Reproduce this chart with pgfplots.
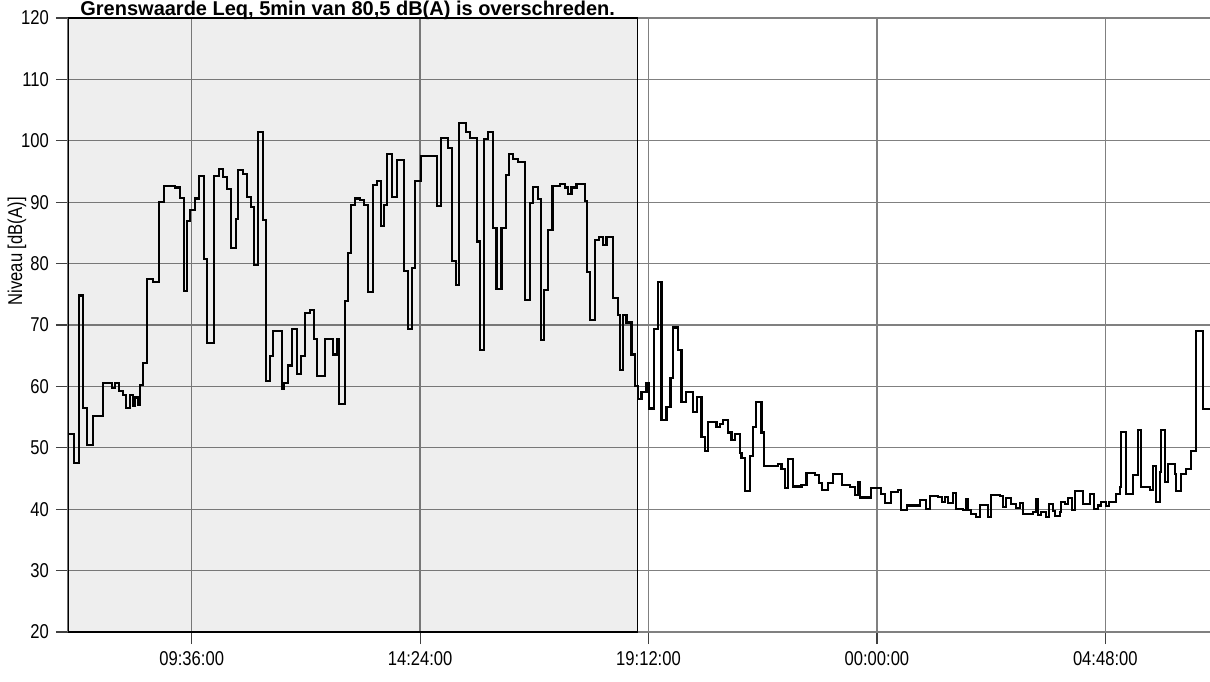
\documentclass[border=0pt]{standalone}
\usepackage{fontspec}
\setmainfont{Liberation Sans}
\usepackage{graphicx}
\usepackage{pgfplots}
\usepackage{pgfplotstable}
\pgfplotsset{compat=1.18}

\pgfplotstableread{
x y
7.000 52.3
7.126 47.5
7.237 74.8
7.309 56.5
7.393 50.5
7.519 55.2
7.729 60.5
7.918 59.7
7.987 60.5
8.078 59.2
8.162 58.6
8.218 56.5
8.303 58.6
8.359 56.8
8.408 58.2
8.477 57.0
8.513 60.3
8.569 63.8
8.666 77.5
8.779 77.0
8.918 90.0
9.017 92.7
9.248 92.4
9.353 90.7
9.437 75.6
9.506 87.0
9.563 88.7
9.668 90.6
9.758 94.2
9.857 80.8
9.926 67.0
10.067 94.2
10.179 95.4
10.263 94.1
10.334 92.2
10.418 82.5
10.529 87.2
10.578 95.3
10.683 94.6
10.754 90.8
10.845 89.2
10.908 79.8
10.998 101.4
11.090 87.1
11.160 60.9
11.244 65.0
11.313 69.0
11.489 59.6
11.544 60.6
11.628 63.4
11.700 69.3
11.805 62.0
11.895 65.0
11.979 72.0
12.084 72.5
12.168 67.7
12.225 61.7
12.399 67.7
12.574 65.2
12.645 67.7
12.700 57.1
12.819 73.9
12.889 81.7
12.945 89.6
13.029 90.6
13.134 90.3
13.218 89.6
13.296 75.4
13.414 92.8
13.498 93.4
13.569 86.1
13.639 89.6
13.695 97.9
13.813 90.8
13.905 96.9
14.059 78.8
14.149 69.3
14.221 79.3
14.290 93.4
14.410 97.5
14.746 89.4
14.830 100.4
14.989 98.9
15.061 80.4
15.151 76.5
15.221 102.9
15.361 101.4
15.445 100.5
15.586 83.6
15.655 65.9
15.739 100.3
15.830 101.5
15.935 85.8
16.006 75.8
16.111 85.8
16.202 94.4
16.271 97.8
16.355 97.0
16.460 96.5
16.601 74.1
16.706 89.9
16.775 92.5
16.880 90.5
16.931 67.5
17.000 75.7
17.090 85.5
17.183 92.7
17.336 92.9
17.441 92.4
17.511 91.3
17.582 92.4
17.687 92.9
17.861 90.2
17.910 78.7
17.966 70.8
18.071 83.9
18.162 84.4
18.246 83.1
18.317 84.4
18.456 74.4
18.561 71.6
18.597 62.7
18.666 71.7
18.737 70.4
18.842 65.2
18.912 60.0
18.981 58.0
19.053 59.1
19.158 60.5
19.212 56.4
19.311 69.3
19.401 77.0
19.473 54.5
19.578 56.6
19.662 61.3
19.716 69.6
19.821 66.0
19.893 57.5
19.983 59.1
20.137 55.8
20.221 58.3
20.313 51.7
20.382 49.5
20.452 54.2
20.628 53.4
20.697 53.9
20.767 54.5
20.872 52.5
20.943 51.2
21.013 52.2
21.118 49.2
21.153 48.4
21.223 42.9
21.328 48.7
21.397 53.4
21.468 57.5
21.574 52.5
21.622 47.0
21.922 47.3
21.994 46.5
22.063 43.5
22.132 48.2
22.237 43.7
22.414 44.0
22.519 45.9
22.693 45.5
22.784 44.2
22.855 43.2
22.973 44.3
23.078 45.8
23.275 44.0
23.443 43.6
23.534 42.3
23.603 44.4
23.653 41.9
23.884 43.4
24.094 42.5
24.164 41.0
24.304 42.8
24.443 43.1
24.514 39.9
24.632 40.6
24.899 41.5
25.025 40.1
25.109 42.2
25.277 42.0
25.361 41.2
25.424 42.0
25.487 41.0
25.599 42.6
25.670 40.1
25.809 39.8
25.880 41.6
25.914 39.9
25.985 39.2
26.090 38.8
26.160 40.7
26.334 38.8
26.405 42.3
26.580 42.1
26.649 40.4
26.721 41.8
26.826 40.9
26.931 40.2
27.000 41.0
27.069 39.2
27.279 39.5
27.336 41.6
27.384 39.0
27.456 39.5
27.561 38.8
27.616 40.8
27.700 39.7
27.735 38.9
27.840 39.5
27.876 41.2
27.945 40.8
28.015 41.8
28.107 39.9
28.155 43.0
28.261 43.0
28.330 40.8
28.471 42.5
28.555 40.0
28.645 40.6
28.716 41.2
28.807 40.5
28.876 41.2
29.032 42.5
29.101 43.6
29.137 52.6
29.242 42.5
29.380 45.5
29.485 52.9
29.557 43.6
29.731 43.2
29.800 47.1
29.872 41.1
29.941 46.0
29.977 52.9
30.046 44.4
30.116 47.4
30.256 45.8
30.292 43.0
30.397 45.8
30.502 46.6
30.607 49.5
30.712 69.0
30.845 56.3
31.000 56.3
}\leqdata

\pgfplotstableread{
x y
7.00 20
7.00 120
18.97 120
18.97 20
}\daybox

\newcommand{\nar}[1]{\scalebox{0.83}[1]{#1}}

\begin{document}
\begin{tikzpicture}
\begin{axis}[
  at={(0,0)}, anchor=south west,
  scale only axis, width=571pt, height=307pt,
  xmin=7, xmax=31, ymin=20, ymax=120,
  axis x line*=bottom, axis y line*=left,
  axis line style={black!50, line width=0.6pt},
  xtick={9.6,14.4,19.2,24,28.8},
  xticklabels={\nar{09:36:00},\nar{14:24:00},\nar{19:12:00},\nar{00:00:00},\nar{04:48:00}},
  ytick={20,30,...,120},
  yticklabel={\nar{\pgfmathprintnumber{\tick}}},
  tick align=outside, major tick length=6pt,
  tick style={black!75, line width=0.6pt},
  grid=major, major grid style={black!50, line width=0.65pt},
  tick label style={font=\fontsize{10}{12}\selectfont},
  /pgf/number format/assume math mode=true,
  ylabel={\nar{Niveau [dB(A)]}},
  ylabel style={font=\fontsize{10}{12}\selectfont, at={(axis description cs:-0.0447,0.62)}, anchor=center},
]
\addplot[draw=black, line width=0.7pt, fill=black, fill opacity=0.065] table {\daybox} -- cycle;
\addplot[const plot, black, line width=1.05pt] table {\leqdata};
\end{axis}
\node[anchor=base west, font=\bfseries\fontsize{10}{12}\selectfont, inner sep=0pt] at (6pt,308pt) {Grenswaarde Leq, 5min van 80,5 dB(A) is overschreden.};
\pgfresetboundingbox
\useasboundingbox (-34pt,-24.5pt) rectangle (571pt,316pt);
\end{tikzpicture}
\end{document}
